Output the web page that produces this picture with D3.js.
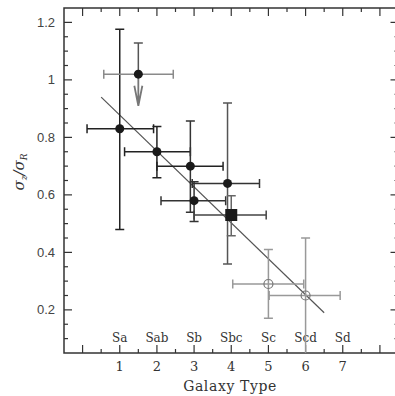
<!DOCTYPE html>
<html>
<head>
<meta charset="utf-8">
<script src="https://cdn.jsdelivr.net/npm/d3@7"></script>
<style>
  body { margin: 0; background: #fff; }
  svg { display: block; }
  .serif { font-family: 'DejaVu Serif', serif; }
  .sans { font-family: 'Liberation Sans', Arial, sans-serif; }
</style>
</head>
<body>
<div id="chart"></div>
<script>
// galaxy type (x) vs sigma_z/sigma_R (y)
var types   = [1, 1.5, 2, 2.9, 3, 3.9, 4, 5, 6]
var ratio   = [0.83, 1.02, 0.75, 0.70, 0.58, 0.64, 0.53, 0.29, 0.25]
var typeLo  = [0.12, 0.57, 1.13, 2.0, 2.11, 2.95, 3.0, 4.04, 5.02]
var typeHi  = [1.91, 2.44, 2.9, 3.78, 3.85, 4.76, 4.94, 5.95, 6.93]
var ratioLo = [0.48, null, 0.66, 0.54, 0.507, 0.36, 0.458, 0.171, 0.05]
var ratioHi = [1.176, 1.128, 0.838, 0.857, 0.646, 0.92, 0.597, 0.41, 0.45]
var marker  = ['dot', 'dot', 'dot', 'dot', 'dot', 'dot', 'square', 'ring', 'ring']
var xColor  = ['#222', '#8a8a8a', '#222', '#222', '#333', '#333', '#444', '#999', '#999']
var yColor  = ['#222', '#555', '#222', '#333', '#333', '#555', '#666', '#999', '#999']

// upper limit arrow on the grey point
var limitTo = [null, 0.91, null, null, null, null, null, null, null]

var fitLine = [[0.5, 0.94], [6.5, 0.19]]

var hubble = ['Sa', 'Sab', 'Sb', 'Sbc', 'Sc', 'Scd', 'Sd']
var hubbleAt = [1, 2, 3, 4, 5, 6, 7]
var xTicks = [1, 2, 3, 4, 5, 6, 7]
var yTicks = [0.2, 0.4, 0.6, 0.8, 1, 1.2]

var data = types.map((t, i) => ({
  t, r: ratio[i], t0: typeLo[i], t1: typeHi[i],
  r0: ratioLo[i], r1: ratioHi[i], m: marker[i],
  xc: xColor[i], yc: yColor[i], lim: limitTo[i]
}))

var W = 395, H = 396
var svg = d3.select('#chart').append('svg')
  .attr('width', W).attr('height', H)

var x = d3.scaleLinear().domain([-0.5, 8.5]).range([64, 398.5])
var y = d3.scaleLinear().domain([0.05, 1.25]).range([353, 8])

var axisCol = '#333'

// frame
svg.append('rect')
  .attr('x', x.range()[0]).attr('y', y.range()[1])
  .attr('width', x.range()[1] - x.range()[0])
  .attr('height', y.range()[0] - y.range()[1])
  .attr('fill', 'none').attr('stroke', axisCol).attr('stroke-width', 1.5)

// ticks on all four sides, pointing in
var xt = d3.range(0, 17).map(d => d / 2)
var yt = d3.range(2, 25).map(d => d / 20)

var tickSel = svg.append('g').attr('stroke', axisCol).attr('stroke-width', 1.2)
xt.forEach(d => {
  var len = d % 1 ? 4 : 8
  tickSel.append('line').attr('x1', x(d)).attr('x2', x(d))
    .attr('y1', y.range()[0]).attr('y2', y.range()[0] - len)
  tickSel.append('line').attr('x1', x(d)).attr('x2', x(d))
    .attr('y1', y.range()[1]).attr('y2', y.range()[1] + len)
})
yt.forEach(d => {
  var len = Math.abs(d * 5 - Math.round(d * 5)) < 1e-6 ? 8 : 4
  tickSel.append('line').attr('y1', y(d)).attr('y2', y(d))
    .attr('x1', x.range()[0]).attr('x2', x.range()[0] + len)
  tickSel.append('line').attr('y1', y(d)).attr('y2', y(d))
    .attr('x1', x.range()[1]).attr('x2', x.range()[1] - len)
})

// tick labels
svg.append('g').selectAll('text').data(xTicks).join('text')
  .attr('class', 'serif')
  .attr('x', d => x(d)).attr('y', 371)
  .attr('text-anchor', 'middle').attr('font-size', 13).attr('fill', '#333')
  .text(d => d)

svg.append('g').selectAll('text').data(yTicks).join('text')
  .attr('class', 'sans')
  .attr('x', 55).attr('y', d => y(d)).attr('dy', '.35em')
  .attr('text-anchor', 'end').attr('font-size', 13).attr('fill', '#444')
  .text(d => d3.format('~g')(d))

// hubble type names
svg.append('g').selectAll('text').data(hubble).join('text')
  .attr('class', 'serif')
  .attr('x', (d, i) => x(hubbleAt[i])).attr('y', 342)
  .attr('text-anchor', 'middle').attr('font-size', 12).attr('fill', '#333')
  .text(d => d)

// axis titles
svg.append('text')
  .attr('class', 'serif')
  .attr('x', 230).attr('y', 391)
  .attr('text-anchor', 'middle').attr('font-size', 14).attr('fill', '#333')
  .attr('letter-spacing', 0.6)
  .text('Galaxy Type')

var yl = svg.append('text')
  .attr('class', 'serif')
  .attr('transform', 'translate(24,172) rotate(-90)')
  .attr('text-anchor', 'middle').attr('font-size', 15).attr('fill', '#333')
  .attr('font-style', 'italic')
yl.append('tspan').text('σ')
yl.append('tspan').attr('font-size', 9).attr('dy', 3).text('z')
yl.append('tspan').attr('dy', -3).text('/σ')
yl.append('tspan').attr('font-size', 9).attr('dy', 3).text('R')

// fit line
svg.append('path')
  .attr('d', d3.line().x(d => x(d[0])).y(d => y(d[1]))(fitLine))
  .attr('stroke', '#555').attr('stroke-width', 1.2).attr('fill', 'none')

// error bars
var cap = 4.5
var pts = svg.append('g').selectAll('g').data(data).join('g')

pts.append('path')
  .attr('d', d => 'M' + [x(d.t0), y(d.r)] + 'H' + x(d.t1) +
    'M' + [x(d.t0), y(d.r) - cap] + 'V' + (y(d.r) + cap) +
    'M' + [x(d.t1), y(d.r) - cap] + 'V' + (y(d.r) + cap))
  .attr('stroke', d => d.xc).attr('stroke-width', 1.5).attr('fill', 'none')

pts.append('path')
  .attr('d', d => {
    var lo = d.r0 == null ? d.r : d.r0
    var p = 'M' + [x(d.t), y(d.r1)] + 'V' + y(lo) +
      'M' + [x(d.t) - cap, y(d.r1)] + 'H' + (x(d.t) + cap)
    if (d.r0 != null && d.r0 > y.domain()[0]) p += 'M' + [x(d.t) - cap, y(d.r0)] + 'H' + (x(d.t) + cap)
    return p
  })
  .attr('stroke', d => d.yc).attr('stroke-width', 1.5).attr('fill', 'none')

// upper limit arrow
pts.filter(d => d.lim != null).append('path')
  .attr('d', d => 'M' + [x(d.t), y(d.r)] + 'V' + y(d.lim) +
    'M' + [x(d.t) - 4, y(d.lim) - 20] + 'L' + [x(d.t), y(d.lim)] + 'L' + [x(d.t) + 4, y(d.lim) - 20])
  .attr('stroke', '#777').attr('stroke-width', 1.8).attr('fill', 'none')

// markers
pts.filter(d => d.m == 'dot').append('circle')
  .attr('cx', d => x(d.t)).attr('cy', d => y(d.r)).attr('r', 4.5)
  .attr('fill', '#1a1a1a')

pts.filter(d => d.m == 'ring').append('circle')
  .attr('cx', d => x(d.t)).attr('cy', d => y(d.r)).attr('r', 4.5)
  .attr('fill', 'none').attr('stroke', '#777').attr('stroke-width', 1.2)

pts.filter(d => d.m == 'square').append('rect')
  .attr('x', d => x(d.t) - 6).attr('y', d => y(d.r) - 6)
  .attr('width', 12).attr('height', 12)
  .attr('fill', '#1a1a1a')
</script>
</body>
</html>
